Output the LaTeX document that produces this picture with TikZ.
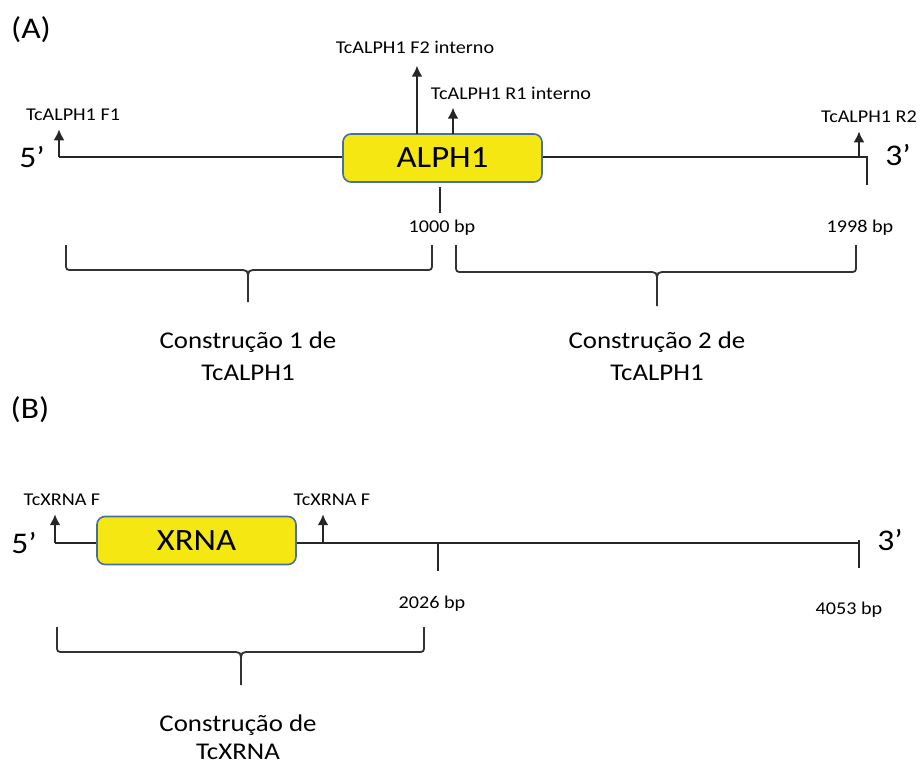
\documentclass[tikz,border=0pt]{standalone}
\usepackage{fontspec}
\setmainfont{Carlito}[FakeStretch=1.12]
\usetikzlibrary{arrows.meta}
\definecolor{genefill}{RGB}{245,232,18}
\definecolor{genedraw}{RGB}{70,110,160}

\begin{document}
\begin{tikzpicture}[x=0.5pt,y=-0.5pt,
  dna/.style={line width=1pt,black!85},
  primer/.style={line width=1pt,black!85,-{Latex[length=5.5pt,width=5.5pt]},shorten >=3pt},
  gene/.style={draw=genedraw,fill=genefill,line width=0.8pt,rounded corners=4pt,minimum width=99.5pt,minimum height=24pt,inner sep=0pt,font=\fontsize{15.5}{18}\selectfont},
  plab/.style={font=\fontsize{9}{11}\selectfont,inner sep=1pt},
  endlab/.style={font=\fontsize{15}{18}\selectfont},
  cons/.style={font=\fontsize{12}{16}\selectfont,align=center,inner sep=1pt},
  brace/.style={line width=0.9pt,black!80}]
\useasboundingbox (0,0) rectangle (921,766);

% (A) TcALPH1
\node[endlab] (labA) at (31,30) {(A)};
\node[endlab] (fiveA) at (32,157) {5’};
\node[endlab] (threeA) at (898,155) {3’};
\node[gene] (alph) at (442.5,158) {ALPH1};
\coordinate (startA) at (59,157); %5' end
\coordinate (endA) at (867,157); %3' end
\draw[dna] (startA) -- (startA -| alph.west);
\draw[dna] (endA -| alph.east) -- (endA) -- ++(0,28); %line and 1998 bp tick

\node[plab] (f1) at (73,115) {TcALPH1 F1};
\node[plab] (f2) at (415,47) {TcALPH1 F2 interno};
\node[plab] (r1) at (511,93) {TcALPH1 R1 interno};
\node[plab] (r2) at (869,117) {TcALPH1 R2};
\coordinate (f2pos) at (417,134);
\coordinate (r1pos) at (453,134);
\coordinate (r2pos) at (859,157);
\draw[primer] (startA) -- (startA |- f1.south);
\draw[primer,shorten >=5pt] (f2pos) -- (f2pos |- f2.south);
\draw[primer] (r1pos) -- (r1pos |- r1.south);
\draw[primer] (r2pos) -- (r2pos |- r2.south);

\node[plab] (bp1000) at (442,228) {1000 bp};
\node[plab] (bp1998) at (860,228) {1998 bp};
\coordinate (t1000) at (440,187);
\draw[dna] (t1000) -- ++(0,26); %1000 bp tick

\draw[brace] (66,245) -- (66,263) .. controls (66,270) .. (73,270) -- (238,270) .. controls (248,270) .. (248,280) .. controls (248,270) .. (258,270) -- (425,270) .. controls (432,270) .. (432,263) -- (432,245) (248,280) -- (248,302); %brace 1
\draw[brace] (456,245) -- (456,265) .. controls (456,272) .. (463,272) -- (647,272) .. controls (657,272) .. (657,282) .. controls (657,272) .. (667,272) -- (849,272) .. controls (856,272) .. (856,265) -- (856,245) (657,282) -- (657,306); %brace 2
\node[cons] (consA1) at (248,356) {Construção 1 de\\TcALPH1};
\node[cons] (consA2) at (657,356) {Construção 2 de\\TcALPH1};

% (B) TcXRNA
\node[endlab] (labB) at (30,410) {(B)};
\node[endlab] (fiveB) at (24,543) {5’};
\node[endlab] (threeB) at (890,540) {3’};
\node[gene] (xrna) at (196.5,540.5) {XRNA};
\coordinate (startB) at (55,543); %5' end
\coordinate (endB) at (859,543); %3' end
\draw[dna] (startB) -- (startB -| xrna.west);
\draw[dna] (endB -| xrna.east) -- (endB);
\draw[dna] ([yshift=1.5pt]endB) -- ++(0,28); %4053 bp tick

\node[plab] (xf1) at (62,500) {TcXRNA F};
\node[plab] (xf2) at (332,500) {TcXRNA F};
\coordinate (xf2pos) at (323,543);
\draw[primer] (startB) -- (startB |- xf1.south);
\draw[primer] (xf2pos) -- (xf2pos |- xf2.south);

\node[plab] (bp2026) at (432,604) {2026 bp};
\node[plab] (bp4053) at (849,610) {4053 bp};
\coordinate (t2026) at (438,543);
\draw[dna] (t2026) -- ++(0,28); %2026 bp tick

\draw[brace] (57,627) -- (57,645) .. controls (57,652) .. (64,652) -- (231,652) .. controls (241,652) .. (241,662) .. controls (241,652) .. (251,652) -- (417,652) .. controls (424,652) .. (424,645) -- (424,627) (241,662) -- (241,685); %brace 3
\node[cons,font=\fontsize{12}{14}\selectfont] (consB) at (238,737) {Construção de\\TcXRNA};

\end{tikzpicture}
\end{document}
